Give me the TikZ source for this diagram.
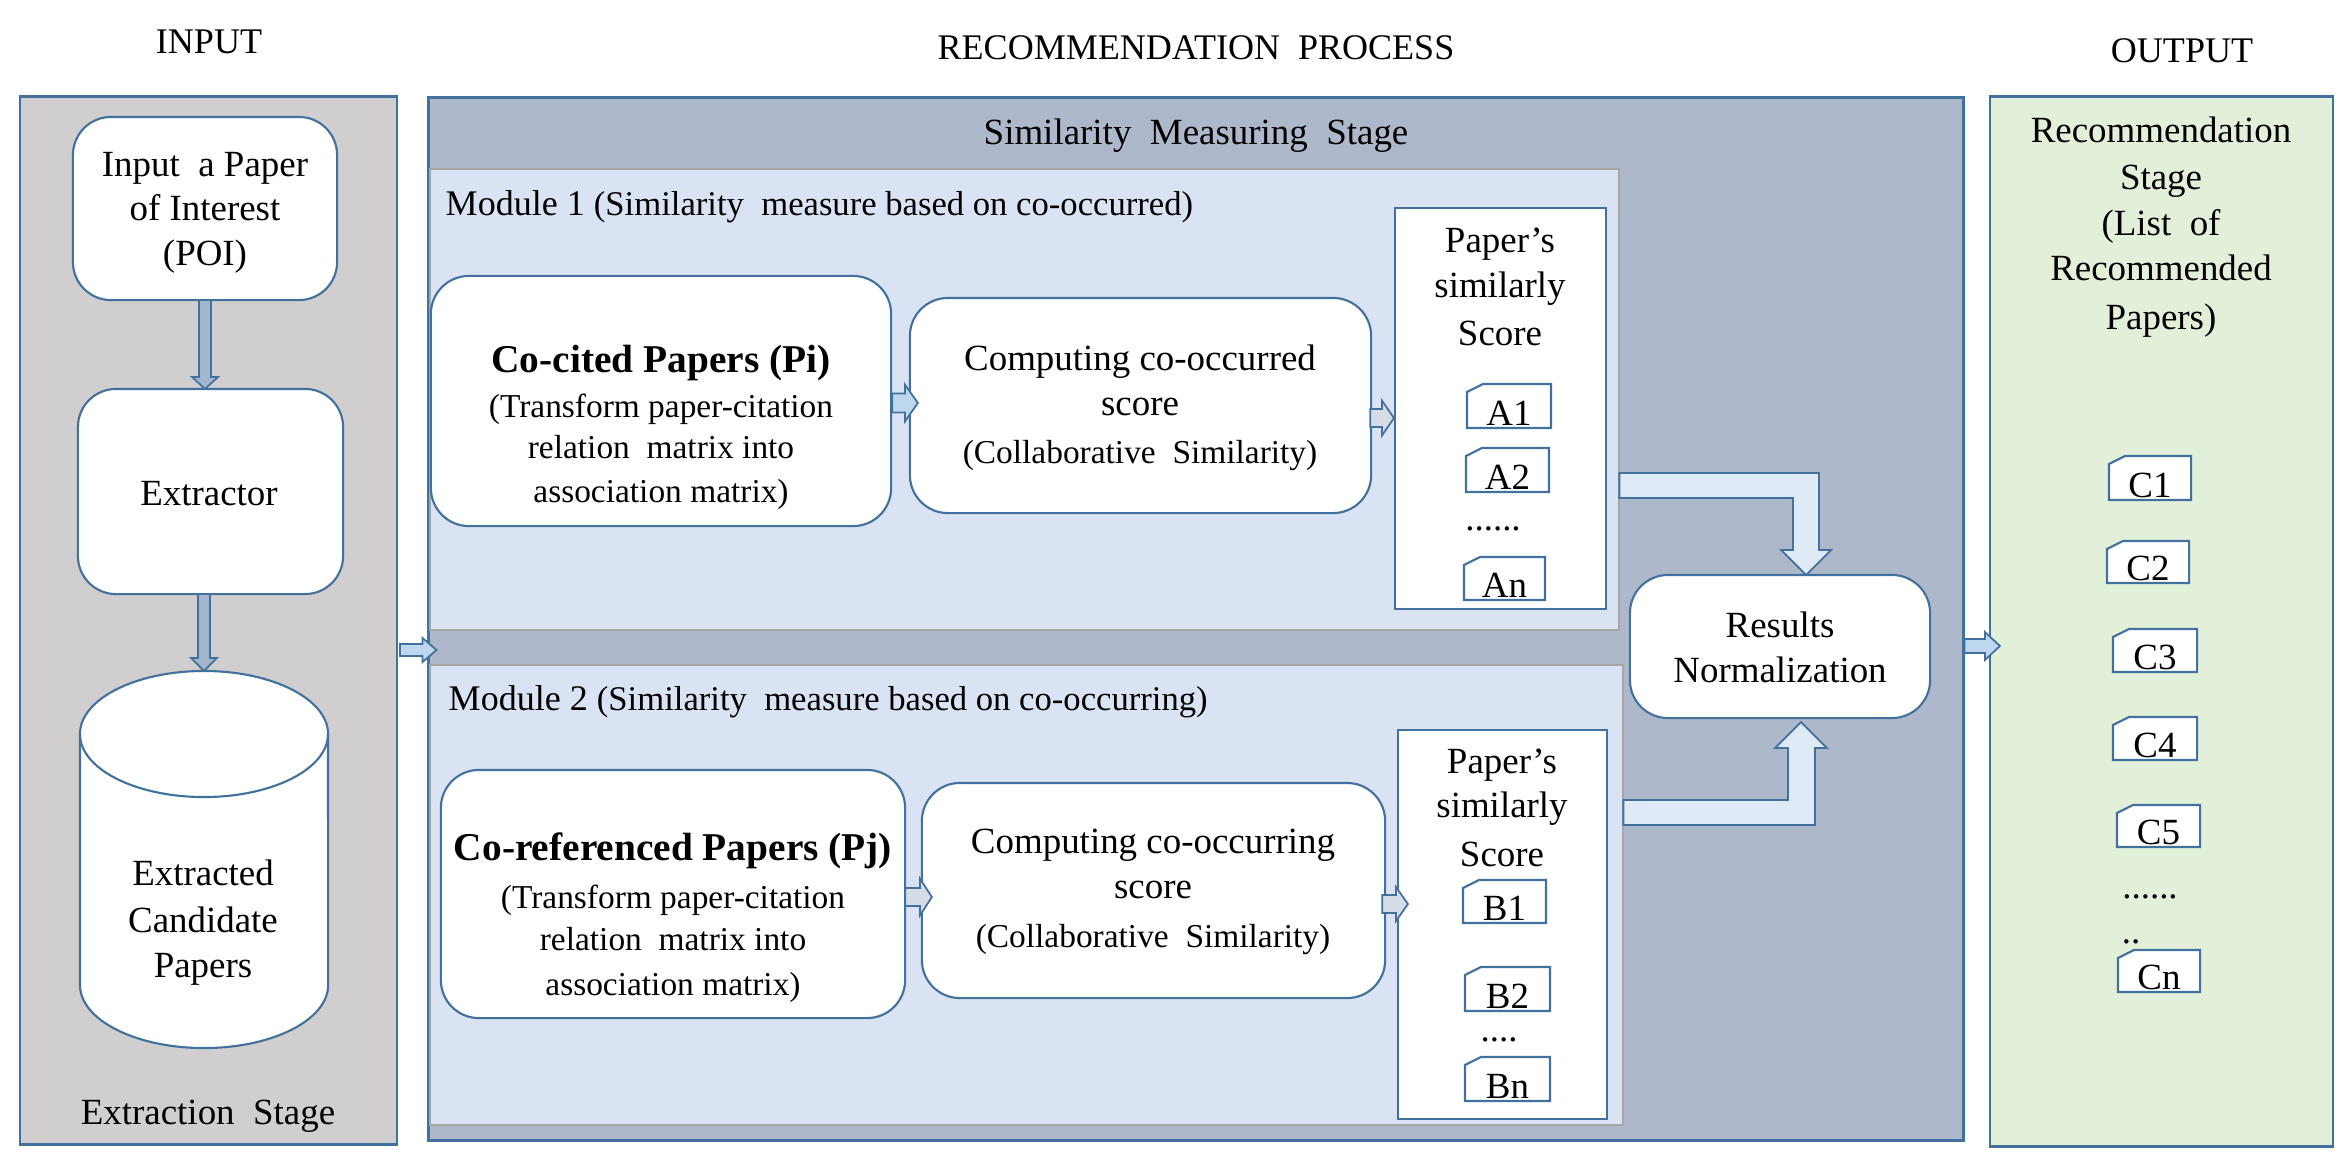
\documentclass[tikz,border=0pt]{standalone}
\usepackage{fontspec}
\setmainfont{Liberation Serif}
\usetikzlibrary{calc}
\definecolor{bord}{HTML}{41719C}
\definecolor{leftfill}{HTML}{D0CECE}
\definecolor{midfill}{HTML}{ADB9CA}
\definecolor{modfill}{HTML}{DAE3F3}
\definecolor{outfill}{HTML}{E2F0D9}
\definecolor{modline}{HTML}{A6A6A6}
\definecolor{larrow}{HTML}{A4B5CE}
\definecolor{sarrow}{HTML}{BDD7EE}
\definecolor{garrow}{HTML}{D6DCE5}
\definecolor{elb}{HTML}{DEEBF7}

\newcommand\fT{\fontsize{10.25pt}{12pt}\selectfont}
\newcommand\fA{\fontsize{10.5pt}{12pt}\selectfont}
\newcommand\fB{\fontsize{11.2pt}{13pt}\selectfont\bfseries}
\newcommand\fC{\fontsize{9.5pt}{11pt}\selectfont}
\newcommand\fM{\fontsize{9.85pt}{11pt}\selectfont}

\newcommand\myharrow[6]{%
  \draw[blk,fill=#6] ($#1+(0,-#3)$) -- ($#2+(-#5,-#3)$) -- ($#2+(-#5,-#4)$) -- #2 -- ($#2+(-#5,#4)$) -- ($#2+(-#5,#3)$) -- ($#1+(0,#3)$) -- cycle;}
\newcommand\myvarrow[6]{%
  \draw[blk,fill=#6] ($#1+(-#3,0)$) -- ($#2+(-#3,-#5)$) -- ($#2+(-#4,-#5)$) -- #2 -- ($#2+(#4,-#5)$) -- ($#2+(#3,-#5)$) -- ($#1+(#3,0)$) -- cycle;}
\newcommand\snipbox[6]{%
  \node[hidden, minimum width=#4, minimum height=#5] (#1) at (#2,#3) {};
  \draw[sline] (#1.south west) -- (#1.south east) -- (#1.north east) -- ($(#1.north west)+(16,0)$) -- ($(#1.north west)+(0,8)$) -- cycle;
  \node[ln] (#1t) at ($(#1.south)+(0,-3)$) {#6};}

\tikzset{
  panel/.style={draw=bord, line width=0.7pt, inner sep=0, outer sep=0},
  module/.style={draw=modline, line width=0.6pt, fill=modfill, inner sep=0, outer sep=0},
  rbox/.style={draw=bord, line width=0.6pt, fill=white, rounded corners=0.38cm, inner sep=0, outer sep=0},
  sbox/.style={draw=bord, line width=0.6pt, fill=white, inner sep=0, outer sep=0},
  sline/.style={draw=bord, line width=0.6pt, fill=white},
  ln/.style={anchor=base, inner sep=0, font=\fA},
  blk/.style={draw=bord, line width=0.5pt},
  hidden/.style={inner sep=0, outer sep=0},
}

\begin{document}
\begin{tikzpicture}[x=0.01cm, y=-0.01cm]
\useasboundingbox (0,0) rectangle (2343,1163);
\fill[white] (0,0) rectangle (2343,1163);

% titles
\node[font=\fT, inner sep=0] (tin) at (209,42) {INPUT};
\node[font=\fT, inner sep=0] (tproc) at (1196,48) {RECOMMENDATION\ \ PROCESS};
\node[font=\fT, inner sep=0] (tout) at (2182,51) {OUTPUT};

% panels
\node[panel, fill=leftfill, minimum width=3.77cm, minimum height=10.47cm] (leftp) at (208.5,620.5) {};
\node[panel, fill=midfill, minimum width=15.34cm, minimum height=10.42cm] (midp) at (1196,619) {};
\node[panel, fill=outfill, minimum width=3.43cm, minimum height=10.49cm] (outp) at (2161.5,621.5) {};
\node[module, minimum width=11.89cm, minimum height=4.61cm] (mod1) at (1024.5,399.5) {};
\node[module, minimum width=11.93cm, minimum height=4.60cm] (mod2) at (1026.5,895) {};

% stage labels
\node[ln] (tsim) at (1196,144) {Similarity\ \ Measuring\ \ Stage};
\node[ln] (textr) at (208,1124) {Extraction\ \ Stage};
\node[ln, anchor=base west] (tmod1) at (445,215) {{\fT Module 1 }{\fM(Similarity\ \ measure based on co-occurred)}};
\node[ln, anchor=base west] (tmod2) at (448,710) {{\fT Module 2 }{\fM(Similarity\ \ measure based on co-occurring)}};

% left column
\node[rbox, minimum width=2.64cm, minimum height=1.83cm] (input) at (205,208.5) {};
\node[ln] (in1) at (205,176) {Input\ \ a Paper};
\node[ln] (in2) at (205,220) {of Interest};
\node[ln] (in3) at (205,265) {(POI)};
\node[rbox, minimum width=2.65cm, minimum height=2.05cm] (extractor) at (210.5,491.5) {};
\node[ln] (ex1) at (209,505) {Extractor};
\node[hidden, minimum width=2.48cm, minimum height=3.77cm] (cyl) at (204,859.5) {};
\path[fill=white] (80,734) -- (80,985) arc[start angle=180, end angle=360, x radius=1.24cm, y radius=0.63cm] -- (328,734) arc[start angle=0, end angle=180, x radius=1.24cm, y radius=0.63cm] -- cycle;
\draw[draw=bord, line width=0.6pt] (80,734) -- (80,985) arc[start angle=180, end angle=360, x radius=1.24cm, y radius=0.63cm] -- (328,734);
\draw[draw=bord, line width=0.6pt] (204,734) ellipse [x radius=1.24cm, y radius=0.63cm];
\node[ln] (cy1) at (203,885) {Extracted};
\node[ln] (cy2) at (203,932) {Candidate};
\node[ln] (cy3) at (203,977) {Papers};

\coordinate (v1s) at (input.south);
\coordinate (v1e) at (input.south |- extractor.north);
\myvarrow{(v1s)}{(v1e)}{6}{13}{12}{larrow}
\coordinate (v2s) at (extractor.south -| cyl.north);
\myvarrow{(v2s)}{(cyl.north)}{6}{13}{13}{larrow}

% module 1
\node[rbox, minimum width=4.60cm, minimum height=2.50cm] (cocited) at (661,401) {};
\node[ln, font=\fB] (cc1) at (661,372) {Co-cited Papers (Pi)};
\node[ln, font=\fC] (cc2) at (661,417) {(Transform paper-citation};
\node[ln, font=\fC] (cc3) at (661,458) {relation\ \ matrix into};
\node[ln, font=\fC] (cc4) at (661,502) {association matrix)};
\node[rbox, minimum width=4.61cm, minimum height=2.15cm] (comp1) at (1140.5,405.5) {};
\node[ln] (cp1) at (1140,370) {Computing co-occurred};
\node[ln] (cp2) at (1140,415) {score};
\node[ln, font=\fC] (cp3) at (1140,463) {(Collaborative\ \ Similarity)};
\node[sbox, minimum width=2.11cm, minimum height=4.01cm] (scoreA) at (1500.5,408.5) {};
\node[ln] (sa1) at (1500,252) {Paper’s};
\node[ln] (sa2) at (1500,297) {similarly};
\node[ln] (sa3) at (1500,345) {Score};
\snipbox{A1}{1509}{406}{0.84cm}{0.44cm}{A1}
\snipbox{A2}{1507.5}{470}{0.83cm}{0.44cm}{A2}
\node[ln] (adots) at (1493,530) {......};
\snipbox{An}{1504.5}{578.5}{0.81cm}{0.43cm}{An}

% module 2
\node[rbox, minimum width=4.64cm, minimum height=2.48cm] (coref) at (673,894) {};
\node[ln, font=\fB] (cr1) at (673,860) {Co-referenced Papers (Pj)};
\node[ln, font=\fC] (cr2) at (673,908) {(Transform paper-citation};
\node[ln, font=\fC] (cr3) at (673,950) {relation\ \ matrix into};
\node[ln, font=\fC] (cr4) at (673,995) {association matrix)};
\node[rbox, minimum width=4.63cm, minimum height=2.15cm] (comp2) at (1153.5,890.5) {};
\node[ln] (cq1) at (1153,853) {Computing co-occurring};
\node[ln] (cq2) at (1153,898) {score};
\node[ln, font=\fC] (cq3) at (1153,947) {(Collaborative\ \ Similarity)};
\node[sbox, minimum width=2.09cm, minimum height=3.89cm] (scoreB) at (1502.5,924.5) {};
\node[ln] (sb1) at (1502,773) {Paper’s};
\node[ln] (sb2) at (1502,817) {similarly};
\node[ln] (sb3) at (1502,866) {Score};
\snipbox{B1}{1504.5}{901.5}{0.83cm}{0.43cm}{B1}
\snipbox{B2}{1507.5}{989}{0.85cm}{0.44cm}{B2}
\node[ln] (bdots) at (1499,1041) {....};
\snipbox{Bn}{1507.5}{1079}{0.85cm}{0.44cm}{Bn}

% results
\node[rbox, minimum width=3.00cm, minimum height=1.43cm] (results) at (1780,646.5) {};
\node[ln] (rs1) at (1780,637) {Results};
\node[ln] (rs2) at (1780,682) {Normalization};

% output
\node[ln] (o1) at (2161,142) {Recommendation};
\node[ln] (o2) at (2161,189) {Stage};
\node[ln] (o3) at (2161,235) {(List\ \ of};
\node[ln] (o4) at (2161,280) {Recommended};
\node[ln] (o5) at (2161,329) {Papers)};
\snipbox{C1}{2150}{478}{0.82cm}{0.44cm}{C1}
\snipbox{C2}{2148}{562}{0.82cm}{0.42cm}{C2}
\snipbox{C3}{2155}{650.5}{0.84cm}{0.43cm}{C3}
\snipbox{C4}{2155}{738.5}{0.84cm}{0.43cm}{C4}
\snipbox{C5}{2158.5}{826}{0.83cm}{0.42cm}{C5}
\node[ln] (cdots1) at (2150,898) {......};
\node[ln] (cdots2) at (2131,943) {..};
\snipbox{Cn}{2159}{971}{0.82cm}{0.42cm}{Cn}

% small horizontal arrows
\coordinate (h1s) at ($(leftp.east)+(3,29.5)$);
\coordinate (h1e) at ($(midp.west)+(8,31)$);
\myharrow{(h1s)}{(h1e)}{6}{12}{14}{sarrow}
\coordinate (h2s) at ($(midp.east)+(1,27)$);
\coordinate (h2e) at ($(outp.west)+(10,24.5)$);
\myharrow{(h2s)}{(h2e)}{7}{14}{15}{sarrow}
\coordinate (h3s) at ($(cocited.east)+(1,2)$);
\coordinate (h3e) at ($(comp1.west)+(8,-2.5)$);
\myharrow{(h3s)}{(h3e)}{9.5}{18.5}{13}{sarrow}
\coordinate (h4s) at ($(comp1.east)+(-1,12.5)$);
\coordinate (h4e) at ($(scoreA.west)+(-1,9.5)$);
\myharrow{(h4s)}{(h4e)}{9}{17.5}{12}{garrow}
\coordinate (h5s) at ($(coref.east)+(0,3)$);
\coordinate (h5e) at ($(comp2.west)+(10,6.5)$);
\myharrow{(h5s)}{(h5e)}{9}{18.5}{12}{garrow}
\coordinate (h6s) at ($(comp2.east)+(-3,13.5)$);
\coordinate (h6e) at ($(scoreB.west)+(10,-20.5)$);
\myharrow{(h6s)}{(h6e)}{9}{17}{12}{garrow}

% elbow arrows
\coordinate (ea) at (mod1.east |- 0,485.5);
\coordinate (eat) at ($(results.north)+(26,0)$);
\draw[blk, fill=elb] ($(ea)+(0,-12.5)$) -| ($(eat)+(13,-25)$) -- ++(12,0) -- (eat) -- ++(-25,-25) -- ++(12,0) |- ($(ea)+(0,12.5)$) -- cycle;
\coordinate (eb) at (mod2.east |- 0,812.5);
\coordinate (ebt) at ($(results.south)+(21,4)$);
\draw[blk, fill=elb] ($(eb)+(0,12.5)$) -| ($(ebt)+(14,26)$) -- ++(12,0) -- (ebt) -- ++(-26,26) -- ++(13,0) |- ($(eb)+(0,-12.5)$) -- cycle;
\end{tikzpicture}
\end{document}
